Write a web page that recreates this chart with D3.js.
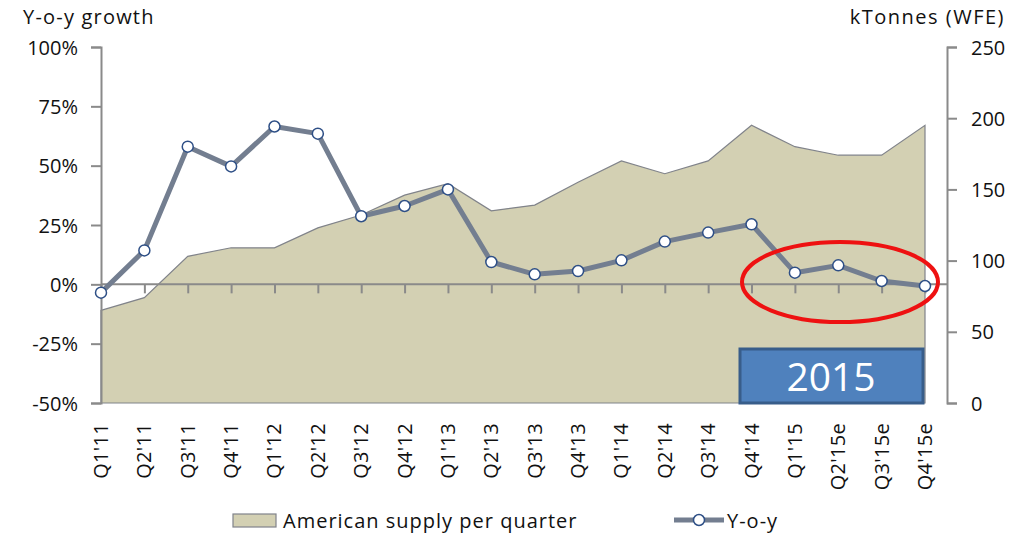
<!DOCTYPE html>
<html>
<head>
<meta charset="utf-8">
<script src="https://cdn.jsdelivr.net/npm/d3@7"></script>
<style>
  body { margin: 0; background: #fff; }
  text { font-family: "Open Sans", Lato, sans-serif; fill: #111; }
</style>
</head>
<body>
<div id="chart"></div>
<script>
// quarters on the x axis
var quarters = ["Q1'11", "Q2'11", "Q3'11", "Q4'11", "Q1'12", "Q2'12", "Q3'12", "Q4'12",
    "Q1'13", "Q2'13", "Q3'13", "Q4'13", "Q1'14", "Q2'14", "Q3'14", "Q4'14",
    "Q1'15", "Q2'15e", "Q3'15e", "Q4'15e"];

// American supply per quarter, kTonnes (WFE), right axis
var supply = [65, 74, 103, 109, 109, 123, 132, 146, 154, 135,
    139, 155, 170, 161, 170, 195, 180, 174, 174, 195];

// year-on-year growth, left axis
var yoy = [-0.035, 0.143, 0.58, 0.497, 0.665, 0.635, 0.287, 0.33, 0.40, 0.094,
    0.042, 0.056, 0.101, 0.18, 0.218, 0.253, 0.049, 0.08, 0.014, -0.007];

var leftTicks = [-0.5, -0.25, 0, 0.25, 0.5, 0.75, 1];
var rightTicks = [0, 50, 100, 150, 200, 250];

var width = 1024, height = 537;
var m = {left: 101, right: 947, top: 47, bottom: 403, lastX: 925};
var fs = "20px";

var svg = d3.select("#chart").append("svg")
    .attr("width", width).attr("height", height);

var x = d3.scalePoint().domain(quarters).range([m.left, m.lastX]);
var yL = d3.scaleLinear().domain([-0.5, 1]).range([m.bottom, m.top]);
var yR = d3.scaleLinear().domain([0, 250]).range([m.bottom, m.top]);

// area series
var area = d3.area()
    .x((d, i) => x(quarters[i]))
    .y0(yR(0))
    .y1(d => yR(d));

svg.append("path")
    .datum(supply)
    .attr("d", area)
    .attr("fill", "#d3d0b3")
    .attr("stroke", "#80838a")
    .attr("stroke-width", 1.2);

// x axis along the 0% line
var xAxis = svg.append("g")
    .attr("transform", `translate(0,${yL(0)})`)
    .call(d3.axisBottom(x).tickSize(9).tickFormat(""));
xAxis.select(".domain").attr("d", `M${m.left},0H${m.right}`);
xAxis.selectAll("path, line").attr("stroke", "#8a8a8a").attr("stroke-width", 2);

// category labels, rotated
svg.append("g")
    .selectAll("text")
    .data(quarters)
    .join("text")
    .attr("transform", d => `translate(${x(d) + 7},${m.bottom + 20}) rotate(-90)`)
    .attr("text-anchor", "end")
    .style("font-size", "20px")
    .style("letter-spacing", "0.3px")
    .text(d => d);

// left axis (plain hyphen for negatives, as in the source)
var pct = d => Math.round(d * 100) + "%";
var gL = svg.append("g")
    .attr("transform", `translate(${m.left},0)`)
    .call(d3.axisLeft(yL).tickValues(leftTicks).tickSize(10).tickSizeOuter(10)
        .tickFormat(pct));
gL.selectAll("path, line").attr("stroke", "#8a8a8a").attr("stroke-width", 2);
gL.selectAll("text").attr("x", -23).attr("dy", "0.35em")
    .style("font-size", fs).style("fill", "#111");

// right axis
var gR = svg.append("g")
    .attr("transform", `translate(${m.right},0)`)
    .call(d3.axisRight(yR).tickValues(rightTicks).tickSize(10).tickSizeOuter(10));
gR.selectAll("path, line").attr("stroke", "#8a8a8a").attr("stroke-width", 2);
gR.selectAll("text").attr("x", 24).attr("dy", "0.35em")
    .style("font-size", fs).style("fill", "#111");

// axis titles
svg.append("text").attr("x", 23).attr("y", 24)
    .style("font-size", fs).style("letter-spacing", "1.2px").text("Y-o-y growth");
svg.append("text").attr("x", 1005).attr("y", 24).attr("text-anchor", "end")
    .style("font-size", fs).style("letter-spacing", "1.5px").text("kTonnes (WFE)");

// yoy line
var line = d3.line()
    .x((d, i) => x(quarters[i]))
    .y(d => yL(d));

svg.append("path")
    .datum(yoy)
    .attr("d", line)
    .attr("fill", "none")
    .attr("stroke", "#737e90")
    .attr("stroke-width", 5)
    .attr("stroke-linejoin", "round");

svg.append("g")
    .selectAll("circle")
    .data(yoy)
    .join("circle")
    .attr("cx", (d, i) => x(quarters[i]))
    .attr("cy", d => yL(d))
    .attr("r", 5.5)
    .attr("fill", "#fff")
    .attr("stroke", "#2e4f86")
    .attr("stroke-width", 1.5);

// highlight ellipse around 2015
svg.append("ellipse")
    .attr("cx", 840).attr("cy", 282)
    .attr("rx", 98).attr("ry", 40)
    .attr("fill", "none")
    .attr("stroke", "#ee1111")
    .attr("stroke-width", 4);

// 2015 label box
svg.append("rect")
    .attr("x", 740).attr("y", 349)
    .attr("width", 183).attr("height", 54)
    .attr("fill", "#4f81bd")
    .attr("stroke", "#385d8a")
    .attr("stroke-width", 3);
svg.append("text")
    .attr("x", 831).attr("y", 391)
    .attr("text-anchor", "middle")
    .style("font-size", "39px")
    .style("fill", "#fff")
    .text("2015");

// legend
var legend = svg.append("g");
legend.append("rect")
    .attr("x", 233).attr("y", 514).attr("width", 43).attr("height", 13)
    .attr("fill", "#d3d0b3").attr("stroke", "#80838a").attr("stroke-width", 1.2);
legend.append("text").attr("x", 283).attr("y", 528)
    .style("font-size", fs).style("letter-spacing", "1px").text("American supply per quarter");
legend.append("line")
    .attr("x1", 674).attr("x2", 724).attr("y1", 520).attr("y2", 520)
    .attr("stroke", "#737e90").attr("stroke-width", 5);
legend.append("circle")
    .attr("cx", 699).attr("cy", 520).attr("r", 5.5)
    .attr("fill", "#fff").attr("stroke", "#2e4f86").attr("stroke-width", 1.5);
legend.append("text").attr("x", 727).attr("y", 528)
    .style("font-size", fs).style("letter-spacing", "1px").text("Y-o-y");
</script>
</body>
</html>
